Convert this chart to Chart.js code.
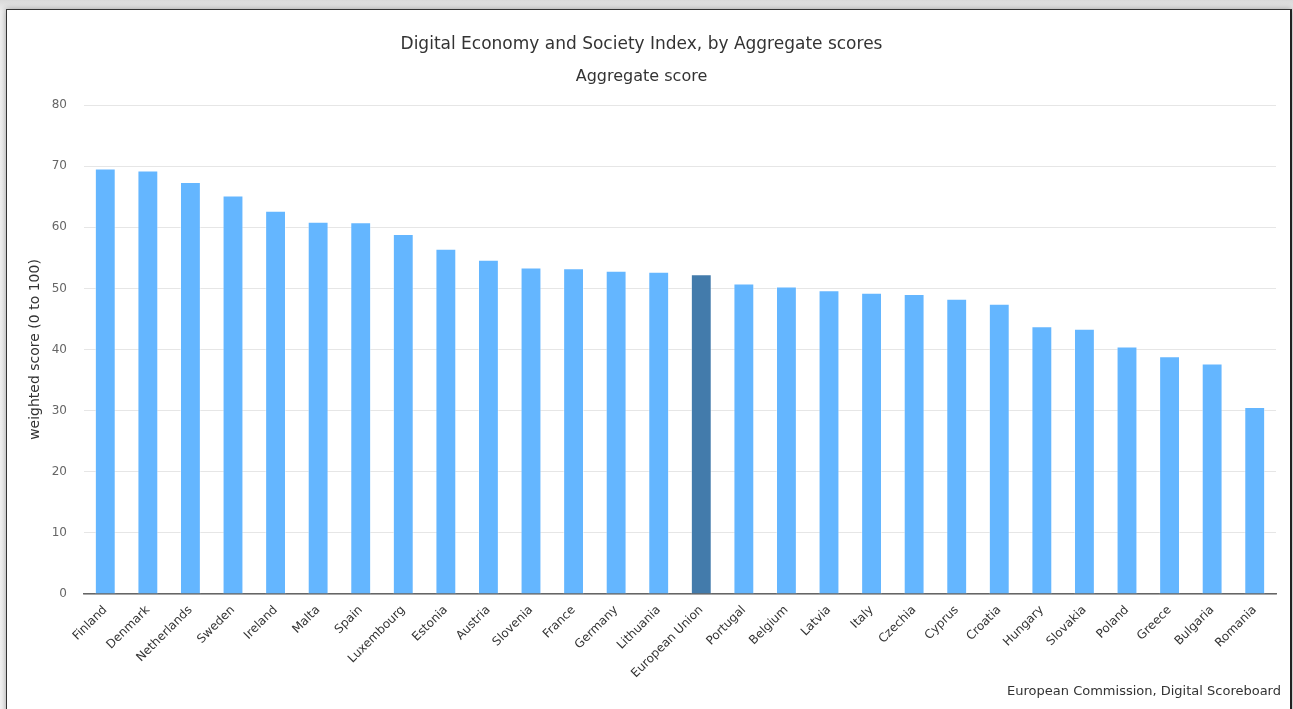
<!DOCTYPE html>
<html>
<head>
<meta charset="utf-8">
<script src="https://cdn.jsdelivr.net/npm/chart.js@4/dist/chart.umd.min.js"></script>
<style>
  html, body { margin:0; padding:0; width:1293px; height:709px; overflow:hidden;
    background: linear-gradient(#d9d9d9, #efefef 12px, #f2f2f2); }
  #frame { position:absolute; left:6px; top:9px; width:1283px; height:720px;
    background:#fff; border:1px solid #333; border-right:2px solid #222;
    box-shadow: 0 0 6px rgba(0,0,0,0.35); }
  #c { position:absolute; left:0; top:0; }
  #credit { position:absolute; right:9px; top:673px; font-family:"DejaVu Sans", sans-serif;
    font-size:13px; color:#333; white-space:nowrap; }
</style>
</head>
<body>
<div id="frame">
  <canvas id="c" width="1283" height="700"></canvas>
  <div id="credit">European Commission, Digital Scoreboard</div>
</div>
<script>
const countries = ["Finland","Denmark","Netherlands","Sweden","Ireland","Malta","Spain","Luxembourg","Estonia","Austria","Slovenia","France","Germany","Lithuania","European Union","Portugal","Belgium","Latvia","Italy","Czechia","Cyprus","Croatia","Hungary","Slovakia","Poland","Greece","Bulgaria","Romania"];
const scores = [69.6,69.3,67.4,65.2,62.7,60.9,60.8,58.9,56.5,54.7,53.4,53.3,52.9,52.7,52.3,50.8,50.3,49.7,49.3,49.1,48.3,47.5,43.8,43.4,40.5,38.9,37.7,30.6];
const highlighted = "European Union";
const yTicks = [0,10,20,30,40,50,60,70,80];
const titleText = "Digital Economy and Society Index, by Aggregate scores";
const subtitleText = "Aggregate score";
const yTitle = "weighted score (0 to 100)";

const FONT = "'DejaVu Sans', sans-serif";
const colors = countries.map(c => c === highlighted ? "#437bab" : "#64b6ff");

new Chart(document.getElementById("c"), {
  type: "bar",
  data: {
    labels: countries,
    datasets: [{
      data: scores,
      backgroundColor: colors,
      borderColor: "rgba(255,255,255,0.45)",
      borderWidth: 1,
      barPercentage: 0.49,
      categoryPercentage: 1.0
    }]
  },
  options: {
    responsive: false,
    animation: false,
    layout: { padding: { left: 0, right: 14, top: 0, bottom: 0 } },
    plugins: {
      legend: { display: false },
      tooltip: { enabled: false },
      title: { display: true, text: titleText, color: "#333",
        font: { family: FONT, size: 17, weight: "normal" },
        padding: { top: 24.4, bottom: 5 } },
      subtitle: { display: true, text: subtitleText, color: "#333",
        font: { family: FONT, size: 16, weight: "normal" },
        padding: { top: 7.6, bottom: 18.4 } }
    },
    scales: {
      x: {
        grid: { display: false, drawTicks: false },
        border: { display: true, color: "#666", width: 1.5 },
        ticks: { autoSkip: false, minRotation: 45, maxRotation: 45, padding: 9,
          color: "#333", font: { family: FONT, size: 12 } },
        afterFit: s => { s.height = 116; }
      },
      y: {
        min: 0, max: 80,
        afterBuildTicks: s => { s.ticks = yTicks.map(v => ({ value: v })); },
        grid: { color: "#e6e6e6", drawTicks: false },
        border: { display: false },
        ticks: { padding: 17, color: "#666", font: { family: FONT, size: 12 } },
        title: { display: true, text: yTitle, color: "#333",
          font: { family: FONT, size: 14 }, padding: { top: 20, bottom: 0 } },
        afterFit: s => { s.width = 77; }
      }
    }
  }
});
</script>
</body>
</html>
